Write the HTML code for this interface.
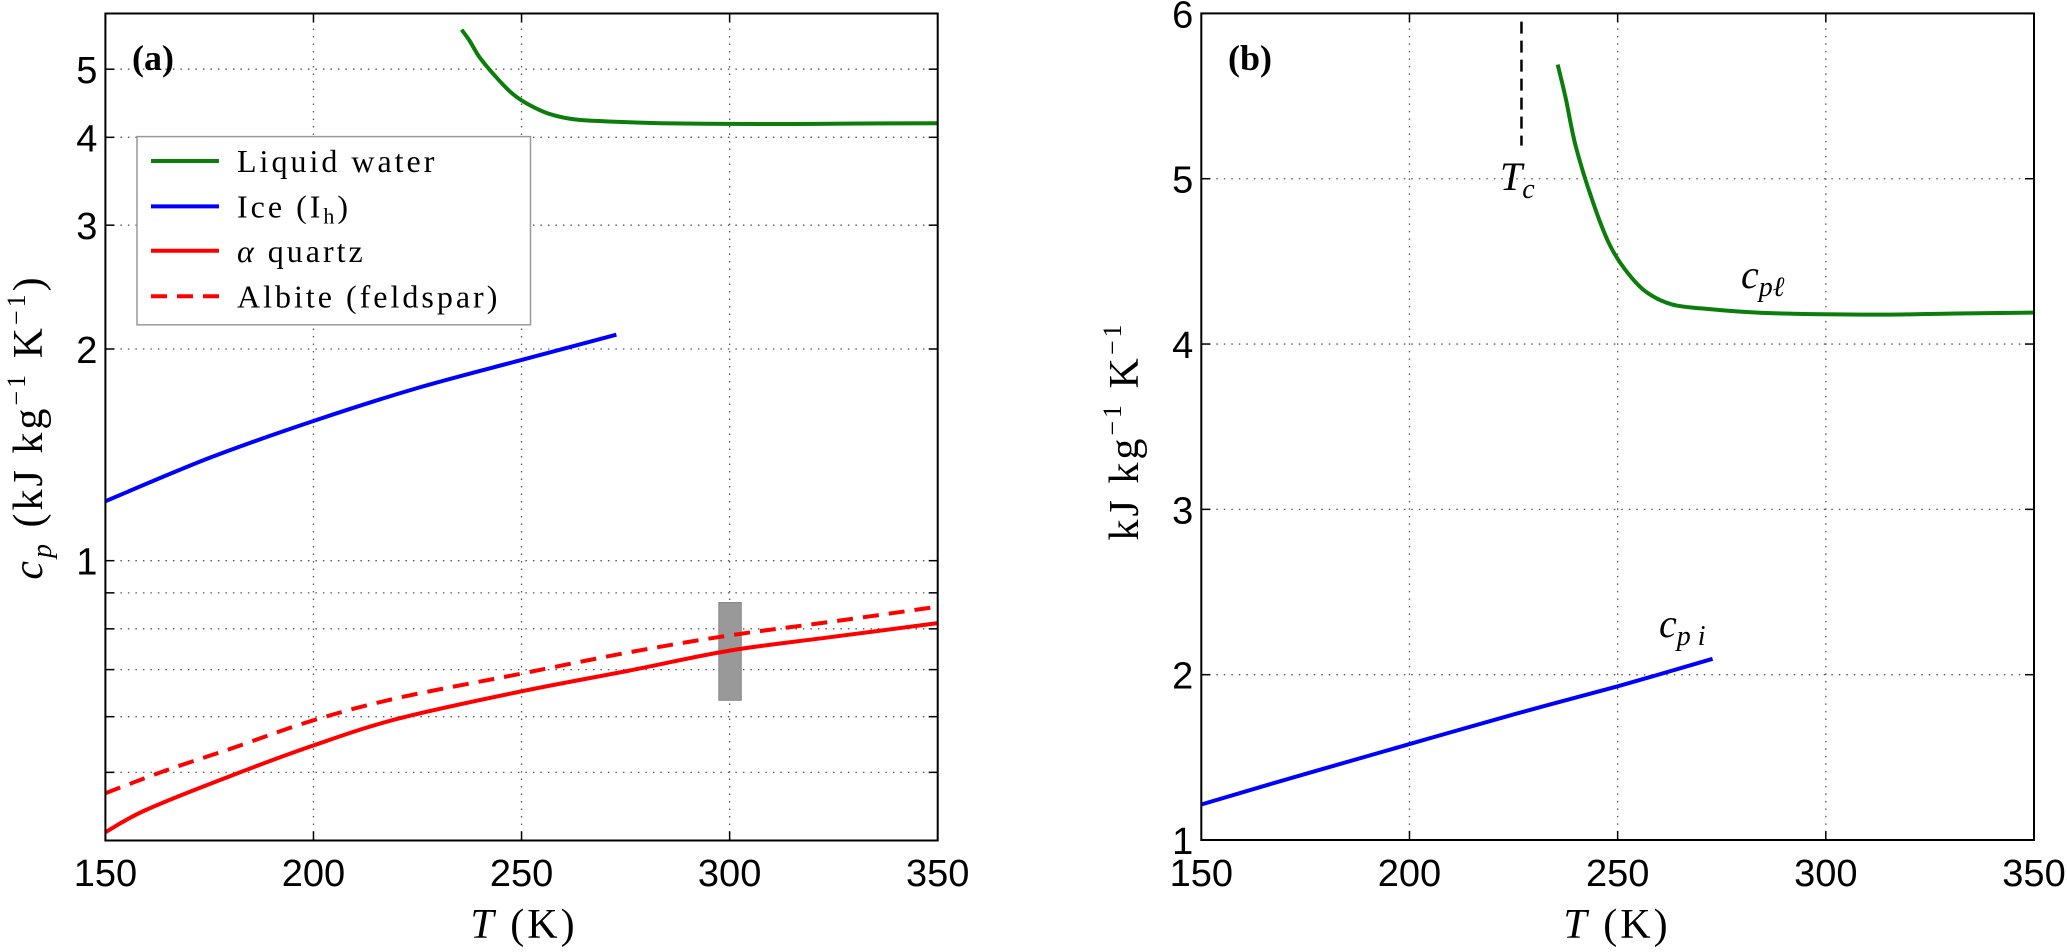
<!DOCTYPE html>
<html><head><meta charset="utf-8"><style>
html,body{margin:0;padding:0;background:#fff;}
svg{display:block;}
.tick{font-family:"Liberation Sans",Arial,sans-serif;font-size:38px;fill:#000;}
.ser{font-family:"Liberation Serif",serif;fill:#000;}
</style></head><body>
<svg id="fig" width="2067" height="952" viewBox="0 0 2067 952" xmlns="http://www.w3.org/2000/svg">
<g id="gA"></g>
<g id="gB"></g>
</svg>
<script>
// ---- data ----
const waterT = [235.6,237.5,239.9,243.9,247.9,251.8,256.6,263,272.5,283.6,299.5,315.4,331.3,350];
const waterCp = [5.69,5.49,5.20,4.87,4.61,4.45,4.32,4.24,4.21,4.19,4.18,4.178,4.185,4.19];
const iceT = [150,175,200,225,250,272.8];
const iceCp = [1.215,1.40,1.58,1.76,1.93,2.096];
const quartzT = [150,159.7,179.6,199.6,220.3,250,276,300,323.9,350];
const quartzCp = [0.411,0.442,0.493,0.545,0.596,0.652,0.698,0.745,0.778,0.815];
const albiteT = [150,164.5,180.4,199.6,220.3,250,276,300,323.9,350];
const albiteCp = [0.467,0.503,0.541,0.592,0.638,0.691,0.741,0.783,0.818,0.86];
const errT = [297.4,302.8];
const errCp = [0.633,0.872];
const TcValue = 226.9;
const TcRange = [5.2,5.95];
const xTicks = [150,200,250,300,350];
const yTicksA = [1,2,3,4,5];
const yMinorA = [0.5,0.6,0.7,0.8,0.9];
const yTicksB = [1,2,3,4,5,6];

const NS="http://www.w3.org/2000/svg";
function el(parent,tag,attrs,text){const e=document.createElementNS(NS,tag);for(const k in attrs)e.setAttribute(k,attrs[k]);if(text!==undefined)e.textContent=text;parent.appendChild(e);return e;}

const A={l:105.4,r:937.7,t:13.5,b:840.5};
const B={l:1201.3,r:2034,t:13.4,b:840};
const xA=t=>A.l+(t-150)/200*(A.r-A.l);
const yA=v=>A.t+(Math.log10(6)-Math.log10(v))/(Math.log10(6)-Math.log10(0.4))*(A.b-A.t);
const xB=t=>B.l+(t-150)/200*(B.r-B.l);
const yB=v=>B.b-(v-1)/5*(B.b-B.t);
function pathD(xs,ys,fx,fy){
  const P=xs.map((x,i)=>[fx(x),fy(ys[i])]);
  let d='M'+P[0][0].toFixed(1)+','+P[0][1].toFixed(1);
  for(let i=0;i<P.length-1;i++){
    const p0=P[Math.max(0,i-1)],p1=P[i],p2=P[i+1],p3=P[Math.min(P.length-1,i+2)];
    const c1=[p1[0]+(p2[0]-p0[0])/6,p1[1]+(p2[1]-p0[1])/6];
    const c2=[p2[0]-(p3[0]-p1[0])/6,p2[1]-(p3[1]-p1[1])/6];
    d+=' C'+c1[0].toFixed(1)+','+c1[1].toFixed(1)+' '+c2[0].toFixed(1)+','+c2[1].toFixed(1)+' '+p2[0].toFixed(1)+','+p2[1].toFixed(1);
  }
  return d;
}

function frame(g,P,xs,ys,fx,fy,gridY,minorY){
  const grid=el(g,'g',{});
  
  
  xs.slice(1,-1).forEach(t=>el(grid,'line',{x1:fx(t),x2:fx(t),y1:P.t,y2:P.b,stroke:'#555','stroke-width':1.3,'stroke-dasharray':'1.5 6'}));
  gridY.concat(minorY).forEach(v=>{const y=fy(v);if(y>P.t+2&&y<P.b-2)el(grid,'line',{x1:P.l,x2:P.r,y1:y,y2:y,stroke:'#555','stroke-width':1.3,'stroke-dasharray':'1.5 6'});});
  xs.forEach(t=>{el(g,'line',{x1:fx(t),x2:fx(t),y1:P.b,y2:P.b-9,stroke:'#000','stroke-width':1.5});el(g,'line',{x1:fx(t),x2:fx(t),y1:P.t,y2:P.t+9,stroke:'#000','stroke-width':1.5});});
  gridY.concat(minorY).forEach(v=>{const y=fy(v);el(g,'line',{x1:P.l,x2:P.l+9,y1:y,y2:y,stroke:'#000','stroke-width':1.5});el(g,'line',{x1:P.r,x2:P.r-9,y1:y,y2:y,stroke:'#000','stroke-width':1.5});});
  xs.forEach(t=>{const tx=el(g,'text',{x:fx(t),y:886,'text-anchor':'middle',class:'tick'},String(t));
    
    });
  gridY.forEach(v=>{const tx=el(g,'text',{x:P.l-8,y:fy(v)+14,'text-anchor':'end',class:'tick'},String(v));
    
    });
}
function box(g,P){const r=el(g,'rect',{x:P.l,y:P.t,width:P.r-P.l,height:P.b-P.t,fill:'none',stroke:'#000','stroke-width':2});
  
  }

// ---- panel A ----
const gA=document.getElementById('gA');
frame(gA,A,xTicks,yTicksA,xA,yA,yTicksA,yMinorA);
const er=el(gA,'rect',{x:xA(errT[0]),y:yA(errCp[1]),width:xA(errT[1])-xA(errT[0]),height:yA(errCp[0])-yA(errCp[1]),fill:'#999',stroke:'#888','stroke-width':1});


let p;
p=el(gA,'path',{d:pathD(waterT,waterCp,xA,yA),fill:'none',stroke:'#0b7d0b','stroke-width':4});


p=el(gA,'path',{d:pathD(iceT,iceCp,xA,yA),fill:'none',stroke:'#0000ff','stroke-width':4});


p=el(gA,'path',{d:pathD(quartzT,quartzCp,xA,yA),fill:'none',stroke:'#ff0000','stroke-width':4});


p=el(gA,'path',{d:pathD(albiteT,albiteCp,xA,yA),fill:'none',stroke:'#ff0000','stroke-width':4,'stroke-dasharray':'16 10'});


box(gA,A);
const lg=el(gA,'g',{});


el(lg,'rect',{x:137,y:136.6,width:393.5,height:188.2,fill:'#fff',stroke:'#999','stroke-width':1.5});
const legItems=[['Liquid water','#0b7d0b',null,161],['Ice (I<tspan font-size="22px" dy="6">h</tspan><tspan dy="-6">)</tspan>','#0000ff',null,206.4],['<tspan font-style="italic">α</tspan> quartz','#ff0000',null,250.8],['Albite (feldspar)','#ff0000','16 10',296.3]];
legItems.forEach(it=>{const gi=el(lg,'g',{});
  
  
  const la={x1:151,x2:219,y1:it[3],y2:it[3],stroke:it[1],'stroke-width':4};if(it[2])la['stroke-dasharray']=it[2];
  el(gi,'line',la);
  const tx=el(gi,'text',{x:237,y:it[3]+11,class:'ser','font-size':'32px','letter-spacing':'3px'});
  tx.innerHTML=it[0];});
let t;
t=el(gA,'text',{x:132,y:70,class:'ser','font-size':'36px','font-weight':'bold'},'(a)');


t=el(gA,'text',{x:524,y:938,'text-anchor':'middle',class:'ser','font-size':'42px','letter-spacing':'3px'});
t.innerHTML='<tspan font-style="italic">T</tspan> (K)';


t=el(gA,'text',{x:0,y:0,transform:'translate(42,427) rotate(-90)','text-anchor':'middle',class:'ser','font-size':'42px','letter-spacing':'3px'});
t.innerHTML='<tspan font-style="italic">c</tspan><tspan font-style="italic" font-size="28px" dy="9">p</tspan><tspan dy="-9"> (kJ kg</tspan><tspan font-size="26px" dy="-17">\u22121</tspan><tspan dy="17"> K</tspan><tspan font-size="26px" dy="-17">\u22121</tspan><tspan dy="17">)</tspan>';



// ---- panel B ----
const gB=document.getElementById('gB');
frame(gB,B,xTicks,yTicksB,xB,yB,yTicksB,[]);
p=el(gB,'line',{x1:xB(TcValue),x2:xB(TcValue),y1:yB(TcRange[1]),y2:yB(TcRange[0]),stroke:'#000','stroke-width':2.5,'stroke-dasharray':'12 7'});


p=el(gB,'path',{d:pathD(waterT,waterCp,xB,yB),fill:'none',stroke:'#0b7d0b','stroke-width':4});


p=el(gB,'path',{d:pathD(iceT,iceCp,xB,yB),fill:'none',stroke:'#0000ff','stroke-width':4});


box(gB,B);
t=el(gB,'text',{x:1228,y:70,class:'ser','font-size':'36px','font-weight':'bold'},'(b)');


t=el(gB,'text',{x:1500,y:190,class:'ser','font-size':'40px'});
t.innerHTML='<tspan font-style="italic">T</tspan><tspan font-style="italic" font-size="28px" dy="8">c</tspan>';


t=el(gB,'text',{x:1741,y:288,class:'ser','font-size':'40px'});
t.innerHTML='<tspan font-style="italic">c</tspan><tspan font-style="italic" font-size="28px" dy="8">p\u2113</tspan>';


t=el(gB,'text',{x:1659,y:637,class:'ser','font-size':'40px'});
t.innerHTML='<tspan font-style="italic">c</tspan><tspan font-style="italic" font-size="28px" dy="8">p i</tspan>';


t=el(gB,'text',{x:1617,y:938,'text-anchor':'middle',class:'ser','font-size':'42px','letter-spacing':'3px'});
t.innerHTML='<tspan font-style="italic">T</tspan> (K)';


t=el(gB,'text',{x:0,y:0,transform:'translate(1138,431) rotate(-90)','text-anchor':'middle',class:'ser','font-size':'42px','letter-spacing':'3px'});
t.innerHTML='kJ kg<tspan font-size="26px" dy="-17">\u22121</tspan><tspan dy="17"> K</tspan><tspan font-size="26px" dy="-17">\u22121</tspan>';


</script>
</body></html>
